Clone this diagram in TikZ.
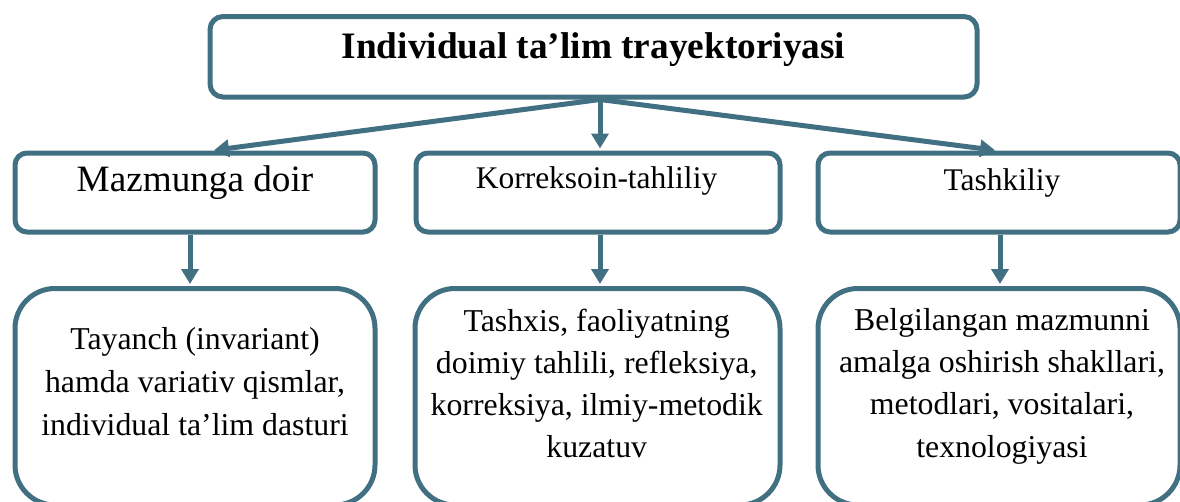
\documentclass[tikz,border=0pt]{standalone}
\usepackage{fontspec}
\setmainfont{Liberation Serif}
\usetikzlibrary{positioning,arrows.meta}
\definecolor{frameblue}{RGB}{65,112,130}
\tikzstyle{head} = [draw=frameblue, line width=5pt, rounded corners=13pt, minimum width=767pt, minimum height=80.5pt]
\tikzstyle{block} = [draw=frameblue, line width=5pt, rounded corners=12pt, minimum width=360pt, minimum height=79pt]
\tikzstyle{card} = [draw=frameblue, line width=5pt, rounded corners=40pt, minimum width=360pt, minimum height=216.5pt]
\tikzstyle{line} = [draw=frameblue, line width=5pt, shorten >=2pt, -{Triangle[length=15pt,width=17pt]}]
\tikzstyle{txt} = [inner sep=0pt, align=center, anchor=base]
\begin{document}
\begin{tikzpicture}[x=1pt,y=-1pt]
\useasboundingbox (0,0) rectangle (1180,501);
\clip (0,0) rectangle (1180,501);

\node [head] (traj) at (593.5,56.75) {};
\node [block] (mazmun) at (195,192.5) {};
\node [block, minimum width=364pt] (korr) at (598,192.5) {};
\node [block, minimum width=362pt] (tashk) at (999,192.5) {};

\node [card] (mazmun_q) at (195,396.75) {};
\node [card, minimum width=365pt] (korr_q) at (597.5,396.75) {};
\node [card, minimum width=362pt] (tashk_q) at (999,396.75) {};

% texts (base = last line)
\node [txt, font=\bfseries\fontsize{37.3}{44}\selectfont] (traj_t) at (593.5,58.3) {Individual ta’lim trayektoriyasi};
\node [txt, font=\fontsize{37.2}{44}\selectfont] (mazmun_t) at (195,191.7) {Mazmunga doir};
\node [txt, font=\fontsize{31.5}{40}\selectfont] (korr_t) at (596.5,188.3) {Korreksoin-tahliliy};
\node [txt, font=\fontsize{31.5}{40}\selectfont] (tashk_t) at (1002,190) {Tashkiliy};

\node [txt, font=\fontsize{31.8}{43}\selectfont] (mazmun_qt) at (195,435) {Tayanch (invariant)\\ hamda variativ qismlar,\\ individual ta’lim dasturi};
\node [txt, font=\fontsize{31.8}{41.7}\selectfont] (korr_qt) at (596.7,457) {Tashxis, faoliyatning\\ doimiy tahlili, refleksiya,\\ korreksiya, ilmiy-metodik\\ kuzatuv};
\node [txt, font=\fontsize{31.8}{42.3}\selectfont] (tashk_qt) at (1002,457) {Belgilangan mazmunni\\ amalga oshirish shakllari,\\ metodlari, vositalari,\\ texnologiyasi};

% arrows
\path [line] ([xshift=6.5pt]traj.south) -- ([xshift=17pt]mazmun.north);
\path [line] ([xshift=6.5pt]traj.south) -- ([xshift=2pt]korr.north);
\path [line] ([xshift=6.5pt]traj.south) -- ([xshift=-2pt]tashk.north);

\path [line] ([xshift=-5pt]mazmun.south) -- ([xshift=-5pt]mazmun_q.north);
\path [line] ([xshift=2pt]korr.south) -- ([xshift=2.5pt]korr_q.north);
\path [line] ([xshift=1pt]tashk.south) -- ([xshift=1pt]tashk_q.north);

\end{tikzpicture}
\end{document}
